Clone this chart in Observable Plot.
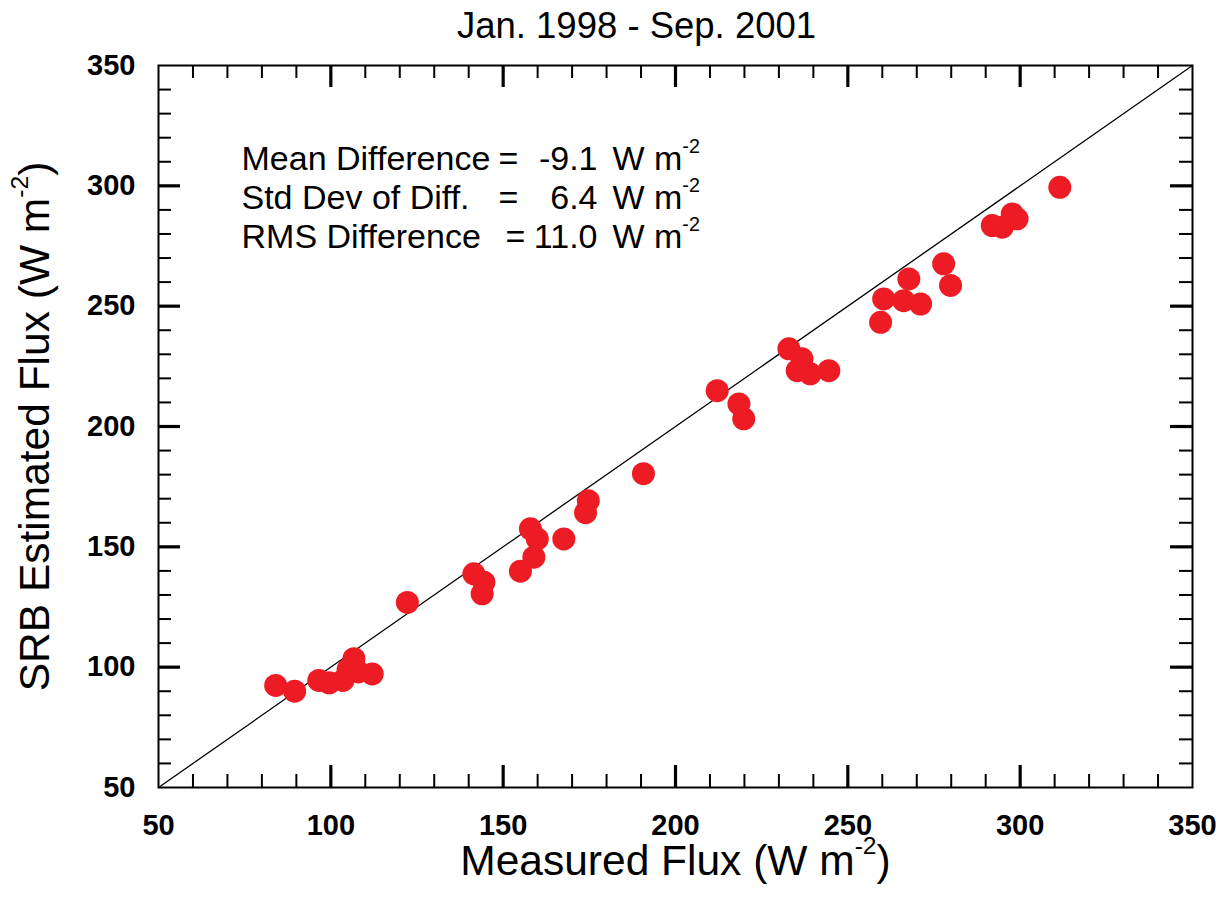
<!DOCTYPE html>
<html>
<head>
<meta charset="utf-8">
<script src="https://cdn.jsdelivr.net/npm/d3@7"></script>
<script src="https://cdn.jsdelivr.net/npm/@observablehq/plot@0.6"></script>
<style>
  html, body { margin: 0; padding: 0; background: #fff; }
</style>
</head>
<body>
<div id="chart"></div>
<script>
// Measured vs. SRB-estimated surface flux (W m-2), one dot per station-month
const measured = [
  84, 89.5, 96.5, 99.5, 103.5, 105, 106.7, 108, 112,
  122.2, 141.5, 144.4, 143.9, 155, 157.9, 159.9, 158.9, 167.6, 173.9, 174.7,
  190.7, 212.1, 218.4, 219.8, 232.9, 236.7, 235.3, 239.1, 244.5,
  259.5, 260.4, 266.2, 267.7, 271.1, 277.8, 279.8,
  291.9, 294.8, 297.7, 299.1, 311.5
];
const estimated = [
  92.4, 90.0, 94.5, 93.5, 94.5, 99, 103.5, 98, 97.2,
  126.9, 138.8, 135.3, 130.5, 139.9, 157.5, 153.3, 145.7, 153.3, 164.2, 169.2,
  180.4, 214.9, 209.4, 203.2, 232.3, 228.1, 223.2, 221.9, 223.2,
  243.3, 253.0, 252.3, 261.3, 250.9, 267.6, 258.6,
  283.5, 282.8, 288.3, 286.3, 299.4
];

// Summary statistics
const statNames = ["Mean Difference", "Std Dev of Diff.", "RMS Difference"];
const statValues = [-9.1, 6.4, 11.0];
const statUnit = "W m^{-2}";

// Axis ticks and the 1:1 reference line
const majorTicks = [50, 100, 150, 200, 250, 300, 350];
const minorTicks = d3.range(60, 350, 10).filter(v => v % 50 !== 0);
const innerMajor = majorTicks.filter(v => v > 50 && v < 350);
const oneToOne = [50, 350];

const titleText = "Jan. 1998 - Sep. 2001";
const xLabel = "Measured Flux (W m^{-2})";
const yLabel = "SRB Estimated Flux (W m^{-2})";

const points = measured.map((m, i) => ({measured: m, estimated: estimated[i]}));

// Layout
const width = 1227, height = 901;
const margin = {top: 65, right: 35, bottom: 114, left: 158};
const frameW = width - margin.left - margin.right;
const frameH = height - margin.top - margin.bottom;
const minorLen = 13, majorLen = 22;
const font = "'Liberation Sans', Arial, Helvetica, sans-serif";

// Inward ticks on all four sides of the frame
function frameTicks(values, len, sw) {
  return [
    Plot.tickX(values, {x: d => d, insetTop: frameH - len, strokeWidth: sw}),
    Plot.tickX(values, {x: d => d, insetBottom: frameH - len, strokeWidth: sw}),
    Plot.tickY(values, {y: d => d, insetRight: frameW - len, strokeWidth: sw}),
    Plot.tickY(values, {y: d => d, insetLeft: frameW - len, strokeWidth: sw})
  ];
}

// Statistics block: label, "=", right-aligned value, unit
const eqOffsets = [340, 340, 347];
const statMarks = statNames.flatMap((name, i) => {
  const dy = 104 + i * 39;
  const common = {frameAnchor: "top-left", dy, lineAnchor: "bottom", fontSize: 34};
  return [
    Plot.text([name], {...common, text: d => d, dx: 83, textAnchor: "start"}),
    Plot.text(["="], {...common, text: d => d, dx: eqOffsets[i], textAnchor: "start"}),
    Plot.text([statValues[i].toFixed(1)], {...common, text: d => d, dx: 439, textAnchor: "end"}),
    Plot.text([statUnit], {...common, text: d => d, dx: 454, textAnchor: "start"})
  ];
});

const svg = Plot.plot({
  width, height,
  marginTop: margin.top, marginRight: margin.right,
  marginBottom: margin.bottom, marginLeft: margin.left,
  style: {fontFamily: font, background: "#fff", color: "#000", overflow: "visible"},
  x: {domain: [50, 350]},
  y: {domain: [50, 350]},
  marks: [
    Plot.line(oneToOne.map(v => ({a: v})), {x: "a", y: "a", stroke: "#000", strokeWidth: 1.3}),
    Plot.dot(points, {x: "measured", y: "estimated", r: 11.5, fill: "#ed1c24", stroke: "none"}),
    ...frameTicks(minorTicks, minorLen, 2),
    ...frameTicks(innerMajor, majorLen, 3.2),
    Plot.frame({stroke: "#000", strokeWidth: 2}),
    Plot.axisX({ticks: majorTicks, tickSize: 0, tickPadding: 27, fontSize: 29, fontWeight: "bold", label: null}),
    Plot.axisY({ticks: majorTicks, tickSize: 0, tickPadding: 23, fontSize: 29, fontWeight: "bold", label: null}),
    ...statMarks,
    Plot.text([titleText], {text: d => d, frameAnchor: "top", dx: -39, dy: -28, lineAnchor: "bottom", fontSize: 36.5}),
    Plot.text([xLabel], {text: d => d, frameAnchor: "bottom", textAnchor: "middle", dy: 87, lineAnchor: "bottom", fontSize: 42.5}),
    Plot.text([yLabel], {text: d => d, frameAnchor: "left", textAnchor: "middle", dx: -110, rotate: -90, lineAnchor: "bottom", fontSize: 42.5})
  ]
});

// Render "^{...}" as raised, smaller superscripts
d3.select(svg).selectAll("text").each(function () {
  const s = this.textContent;
  if (!s.includes("^{")) return;
  const parts = s.split(/\^\{([^}]*)\}/);
  this.textContent = "";
  let raised = false;
  parts.forEach((p, i) => {
    if (p === "") return;
    const ts = d3.select(this).append("tspan").text(p);
    if (i % 2 === 1) {
      ts.attr("font-size", "58%").attr("dy", "-0.85em");
      raised = true;
    } else if (raised) {
      ts.attr("dy", "0.493em");
      raised = false;
    }
  });
});

document.getElementById("chart").append(svg);
</script>
</body>
</html>
